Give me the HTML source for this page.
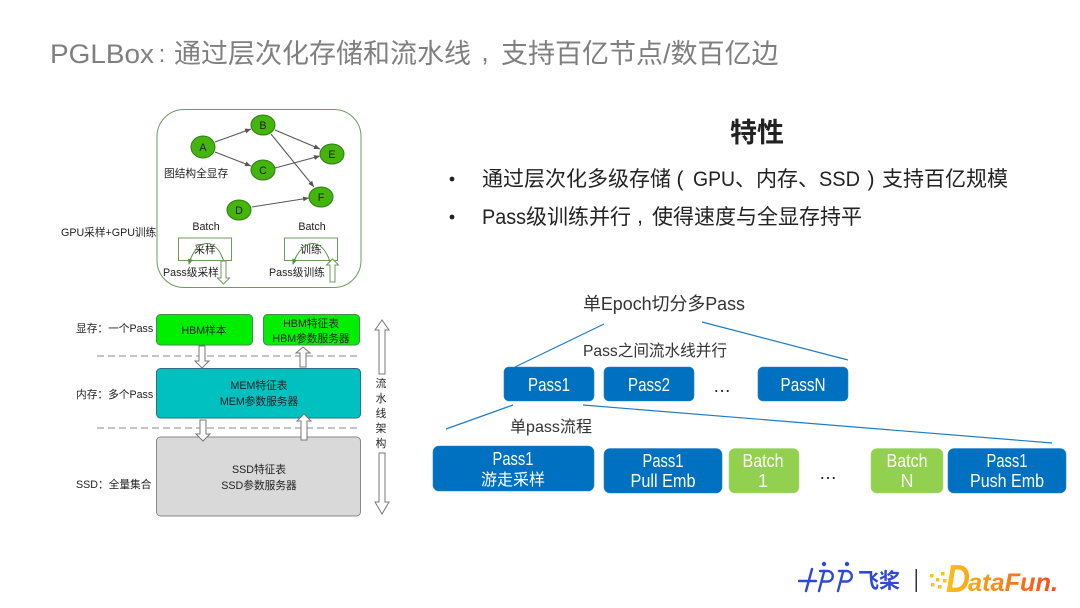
<!DOCTYPE html>
<html lang="zh"><head><meta charset="utf-8"><title>PGLBox</title>
<style>
html,body{margin:0;padding:0;background:#fff;width:1080px;height:608px;overflow:hidden}
svg{display:block}
text{font-family:"Liberation Sans","Noto Sans CJK SC",sans-serif}
.n{fill:#44b40c;stroke:#2e7d12;stroke-width:1}
.e{stroke:#555;stroke-width:1;fill:none;marker-end:url(#a)}
.g{fill:#222;font-size:10.700px}
.c{text-anchor:middle}
.w{fill:#fff;font-size:18px;text-anchor:middle}
.wc{fill:#fff;font-size:16px;text-anchor:middle}
.bb{fill:#0070c0;stroke:#2a86cc;stroke-width:.6}
.lg{fill:#92d050;stroke:#a5da70;stroke-width:.6}
.bl{stroke:#1f7cc4;stroke-width:1.200;fill:none}
.ar{fill:#fff;stroke:#777;stroke-width:1}
.t{font-size:27px;fill:#7f7f7f}
.f{font-size:21px;fill:#222}
.o{fill:url(#df);font-weight:700;font-style:italic}
</style></head><body>
<svg width="1080" height="608" viewBox="0 0 1080 608" xmlns="http://www.w3.org/2000/svg">
<defs>
<marker id="a" markerWidth="7" markerHeight="6" refX="6" refY="3" orient="auto"><path d="M0 .5L6 3L0 5.500z" fill="#555"/></marker>
<marker id="b" markerWidth="7" markerHeight="6" refX="5" refY="3" orient="auto"><path d="M0 .5L6 3L0 5.500z" fill="#5c8f45"/></marker>
<linearGradient id="df" gradientUnits="userSpaceOnUse" x1="947" x2="1058" y1="0" y2="0"><stop offset="0" stop-color="#fbbf1a"/><stop offset="1" stop-color="#f4491c"/></linearGradient>
<filter id="s" x="-5%" y="-5%" width="110%" height="110%"><feGaussianBlur stdDeviation=".35"/></filter>
</defs>

<text x="50" y="63" class="t" textLength="104" lengthAdjust="spacingAndGlyphs">PGLBox</text>
<text x="162" y="62" font-size="24" fill="#7f7f7f" class="c">:</text>
<text x="174" y="63" class="t">通过层次化存储和流水线</text>
<text x="485" y="61" class="t c">,</text>
<text x="501" y="63" class="t">支持百亿节点/数百亿边</text>

<g filter="url(#s)">
<!-- Graph panel -->
<rect x="157" y="109.500" width="204" height="178" rx="27" fill="#fff" stroke="#6f9a5c"/>
<line class="e" x1="215" y1="142" x2="251" y2="129"/>
<line class="e" x1="215" y1="152" x2="251" y2="166"/>
<line class="e" x1="275" y1="130" x2="320" y2="149"/>
<line class="e" x1="271" y1="134" x2="314" y2="187"/>
<line class="e" x1="275" y1="168" x2="320" y2="156"/>
<line class="e" x1="252" y1="207" x2="309" y2="198"/>
<ellipse class="n" cx="203" cy="147" rx="12" ry="11"/><text x="203" y="151" class="g c">A</text>
<ellipse class="n" cx="263" cy="125" rx="12" ry="10"/><text x="263" y="129" class="g c">B</text>
<ellipse class="n" cx="263" cy="170" rx="12" ry="10"/><text x="263" y="174" class="g c">C</text>
<ellipse class="n" cx="332" cy="154" rx="12" ry="10"/><text x="332" y="158" class="g c">E</text>
<ellipse class="n" cx="321" cy="197" rx="12" ry="10"/><text x="321" y="201" class="g c">F</text>
<ellipse class="n" cx="239" cy="210" rx="12" ry="10"/><text x="239" y="214" class="g c">D</text>
<text x="164" y="177" class="g">图结构全显存</text>
<text x="61" y="236" class="g">GPU采样+GPU训练</text>
<text x="206" y="230" class="g c">Batch</text>
<text x="312" y="230" class="g c">Batch</text>
<rect x="178.500" y="238" width="53" height="22.500" fill="none" stroke="#6f9a5c"/>
<rect x="284.500" y="238" width="53" height="22.500" fill="none" stroke="#6f9a5c"/>
<text x="205" y="253" class="g c">采样</text>
<text x="311" y="253" class="g c">训练</text>
<path d="M224 262C216 236 196 238 189 264" fill="none" stroke="#5c8f45" marker-end="url(#b)"/>
<path d="M330 262C322 236 302 238 293 264" fill="none" stroke="#5c8f45" marker-end="url(#b)"/>
<text x="163" y="276" class="g">Pass级采样</text>
<text x="269" y="276" class="g">Pass级训练</text>
<path d="M221 261h5v17h3.500l-6 6-6-6h3.500z" fill="#fff" stroke="#6f9a5c"/>
<path d="M330 282v-17h-3.500l6-6 6 6h-3.500v17z" fill="#fff" stroke="#6f9a5c"/>

<!-- Storage stack -->
<rect x="156.500" y="314.500" width="96" height="30.500" rx="4" fill="#00ee00" stroke="#4b8a4b"/>
<rect x="263.500" y="314.500" width="96" height="30.500" rx="4" fill="#00ee00" stroke="#4b8a4b"/>
<rect x="156.500" y="368.500" width="204" height="49.500" rx="4" fill="#00c0c0" stroke="#2c6f7d"/>
<rect x="156.500" y="437" width="204" height="79" rx="4" fill="#d9d9d9" stroke="#888"/>
<line x1="97" y1="356" x2="359" y2="356" stroke="#8a8a8a" stroke-dasharray="7 4"/>
<line x1="97" y1="428" x2="359" y2="428" stroke="#8a8a8a" stroke-dasharray="7 4"/>
<text x="76" y="332" class="g">显存：一个Pass</text>
<text x="76" y="398" class="g">内存：多个Pass</text>
<text x="76" y="488" class="g">SSD：全量集合</text>
<text x="204" y="334" class="g c">HBM样本</text>
<text x="311" y="327" class="g c">HBM特征表</text>
<text x="311" y="342" class="g c">HBM参数服务器</text>
<text x="259" y="389" class="g c">MEM特征表</text>
<text x="259" y="405" class="g c">MEM参数服务器</text>
<text x="259" y="473" class="g c">SSD特征表</text>
<text x="259" y="489" class="g c">SSD参数服务器</text>
<path class="ar" d="M199 346h6v15h4l-7 7-7-7h4z"/>
<path class="ar" d="M200 420h6v14h4l-7 7-7-7h4z"/>
<path class="ar" d="M300 367v-14h-4l7-6 7 6h-4v14z"/>
<path class="ar" d="M301 440v-19h-4l7-7 7 7h-4v19z"/>
<path class="ar" d="M379 374v-44h-4l7-10 7 10h-4v44z"/>
<path class="ar" d="M379 453v49h-4l7 12 7-12h-4v-49z"/>
<text x="381" y="387" class="g c">流</text><text x="381" y="402" class="g c">水</text><text x="381" y="417" class="g c">线</text><text x="381" y="432" class="g c">架</text><text x="381" y="447" class="g c">构</text>
</g>

<!-- Features -->
<text x="757" y="142" font-size="27" font-weight="700" fill="#222" class="c">特性</text>
<circle cx="452" cy="179" r="2.400" fill="#222"/>
<circle cx="452" cy="217" r="2.400" fill="#222"/>
<text x="482" y="186" class="f">通过层次化多级存储</text>
<text x="680" y="186" class="f c">(</text>
<text x="693" y="186" class="f" textLength="42" lengthAdjust="spacingAndGlyphs">GPU</text>
<text x="735" y="186" class="f">、内存、</text>
<text x="819" y="186" class="f" textLength="41" lengthAdjust="spacingAndGlyphs">SSD</text>
<text x="871" y="186" class="f c">)</text>
<text x="882" y="186" class="f">支持百亿规模</text>
<text x="482" y="224" class="f" textLength="44" lengthAdjust="spacingAndGlyphs">Pass</text>
<text x="526" y="224" class="f">级训练并行</text>
<text x="640" y="223" class="f c">,</text>
<text x="652" y="224" class="f">使得速度与全显存持平</text>

<!-- Pipeline -->
<text x="583" y="310" font-size="18" fill="#333" textLength="162" lengthAdjust="spacingAndGlyphs">单Epoch切分多Pass</text>
<text x="583" y="356" font-size="16" fill="#333" textLength="144" lengthAdjust="spacingAndGlyphs">Pass之间流水线并行</text>
<text x="510" y="432" font-size="16" fill="#333" textLength="82" lengthAdjust="spacingAndGlyphs">单pass流程</text>
<line class="bl" x1="604" y1="324" x2="515" y2="367"/>
<line class="bl" x1="702" y1="322" x2="848" y2="360"/>
<line class="bl" x1="513" y1="405" x2="446" y2="429"/>
<line class="bl" x1="583" y1="405" x2="1052" y2="443"/>
<rect class="bb" x="504" y="367" width="90" height="34" rx="5"/><text x="549" y="391" class="w" textLength="42" lengthAdjust="spacingAndGlyphs">Pass1</text>
<rect class="bb" x="604" y="367" width="90" height="34" rx="5"/><text x="649" y="391" class="w" textLength="42" lengthAdjust="spacingAndGlyphs">Pass2</text>
<text x="722" y="392" font-size="18" fill="#222" class="c">…</text>
<rect class="bb" x="758" y="367" width="90" height="34" rx="5"/><text x="803" y="391" class="w" textLength="45" lengthAdjust="spacingAndGlyphs">PassN</text>
<rect class="bb" x="433" y="446" width="161" height="45" rx="6"/><text x="513" y="465" class="w" textLength="41" lengthAdjust="spacingAndGlyphs">Pass1</text><text x="513" y="485" class="wc">游走采样</text>
<rect class="bb" x="604" y="448.500" width="118" height="44.500" rx="6"/><text x="663" y="467" class="w" textLength="41" lengthAdjust="spacingAndGlyphs">Pass1</text><text x="663" y="487" class="w" textLength="65" lengthAdjust="spacingAndGlyphs">Pull Emb</text>
<rect class="lg" x="729" y="448.500" width="70" height="44.500" rx="6"/><text x="763" y="467" class="w" textLength="41" lengthAdjust="spacingAndGlyphs">Batch</text><text x="763" y="487" class="w">1</text>
<text x="828" y="479" font-size="18" fill="#222" class="c">…</text>
<rect class="lg" x="871" y="448.500" width="72" height="44.500" rx="6"/><text x="907" y="467" class="w" textLength="41" lengthAdjust="spacingAndGlyphs">Batch</text><text x="907" y="487" class="w">N</text>
<rect class="bb" x="948" y="448.500" width="118" height="44.500" rx="6"/><text x="1007" y="467" class="w" textLength="41" lengthAdjust="spacingAndGlyphs">Pass1</text><text x="1007" y="487" class="w" textLength="74" lengthAdjust="spacingAndGlyphs">Push Emb</text>

<!-- Logos -->
<g fill="none" stroke="#2e49d6" stroke-width="2.400" stroke-linecap="round" stroke-linejoin="round">
<path d="M799 581h17M812 569l-6 22"/>
<path d="M820 571h7a5 5 0 0 1 1 10.500h-6M824 572l-5 19"/>
<path d="M839 571h7a5 5 0 0 1 1 10.500h-6M843 572l-5 19"/>
</g>
<circle cx="824" cy="564" r="2.200" fill="#2e49d6"/><circle cx="847" cy="564" r="2.200" fill="#2e49d6"/>
<text x="858" y="588" font-size="21" font-weight="700" fill="#2e49d6" textLength="42" lengthAdjust="spacing">飞桨</text>
<rect x="915.500" y="569" width="1.500" height="23" fill="#333"/>
<g fill="#fbc21d"><rect x="930" y="574" width="3.500" height="3.500"/><rect x="936" y="578" width="3.500" height="3.500"/><rect x="941" y="572" width="3.500" height="3.500"/><rect x="931" y="583" width="3.500" height="3.500"/><rect x="938" y="585" width="3.500" height="3.500"/><rect x="943" y="579" width="3.500" height="3.500"/></g>
<text x="946" y="592" font-size="39" class="o" textLength="24" lengthAdjust="spacingAndGlyphs">D</text>
<text x="968" y="591" font-size="25" class="o" textLength="90" lengthAdjust="spacingAndGlyphs">ataFun.</text>
</svg>
</body></html>
